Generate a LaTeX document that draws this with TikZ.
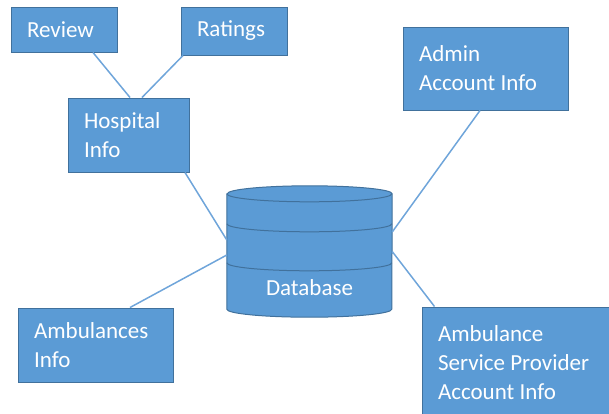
\documentclass[tikz,border=0pt]{standalone}
\usepackage{fontspec}
\setmainfont{Carlito}
\definecolor{boxblue}{HTML}{5B9BD5}
\definecolor{boxedge}{HTML}{41719C}
\definecolor{linkblue}{HTML}{6FA5DA}
\begin{document}
\begin{tikzpicture}[x=1pt,y=-1pt,
    entity/.style={rectangle,draw=boxedge,fill=boxblue,text=white,align=flush left,
        inner xsep=16pt,inner ysep=0pt,line width=1pt,font=\fontsize{23}{29}\selectfont,
        execute at begin node={\spaceskip=0pt\xspaceskip=0pt}},
    drum/.style={draw=boxedge,fill=boxblue,line width=1pt},
    rim/.style={draw=boxedge,line width=1pt},
    link/.style={draw=linkblue,line width=1.5pt}]
\useasboundingbox (0,0) rectangle (609,413);
    \node[entity,text width=74pt,minimum height=45pt] (review) at (64,29.5) {Review};
    \node[entity,text width=74pt,minimum height=48pt] (ratings) at (234,31) {Ratings};
    \node[entity,text width=89pt,minimum height=74pt] (hosp) at (128.5,135) {Hospital\\Info};
    \node[entity,text width=133pt,minimum height=83pt] (admin) at (485.5,68.5) {Admin\\Account Info};
    \node[entity,text width=123pt,minimum height=74pt] (amb) at (95.5,345) {Ambulances\\Info};
    \node[entity,text width=171pt,minimum height=112pt] (asp) at (523.5,363) {Ambulance\\Service Provider\\Account Info};
\begin{scope}
    \node[minimum width=165pt,minimum height=115pt,inner sep=0pt] (db) at (309.5,251.5) {};
    \path[drum] (db.north west) -- (db.south west)
        arc[start angle=180,end angle=360,x radius=82.5pt,y radius=8pt] -- (db.north east)
        arc[start angle=0,end angle=180,x radius=82.5pt,y radius=8pt] -- cycle;
    \foreach \d in {0,30,69}
        \draw[rim] ([yshift=-\d pt]db.north west) arc[start angle=180,end angle=360,x radius=82.5pt,y radius=8pt];
    \node[text=white,font=\fontsize{23}{29}\selectfont] (dblabel) at ([yshift=-94pt]db.north) {Database};
\end{scope}
    \draw[link] ([xshift=29pt]review.south) -- ([xshift=1.5pt]hosp.north);
    \draw[link] ([xshift=-51pt]ratings.south) -- ([xshift=13.5pt]hosp.north);
    \draw[link] ([xshift=56.5pt]hosp.south) -- ([yshift=11.5pt]db.west);
    \draw[link] ([xshift=34.5pt]amb.north) -- ([yshift=-3.5pt]db.west);
    \draw[link] ([xshift=-5.5pt]admin.south) -- ([yshift=19.5pt]db.east);
    \draw[link] ([xshift=13pt]asp.north west) -- (db.east);
\end{tikzpicture}
\end{document}
